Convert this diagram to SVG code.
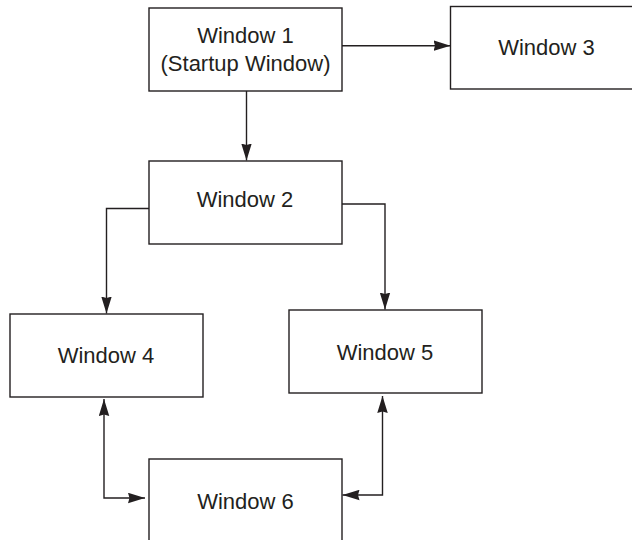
<svg xmlns="http://www.w3.org/2000/svg" width="632" height="540" viewBox="0 0 632 540">
<defs>
<style>
.box{fill:#fff;stroke:#231f20;stroke-width:1.4}
.lbl{font-family:"Liberation Sans",Arial,sans-serif;font-size:22px;fill:#231f20;text-anchor:middle}
.con{fill:none;stroke:#231f20;stroke-width:1.4}
</style>
<marker id="ah" markerUnits="userSpaceOnUse" markerWidth="18" markerHeight="11" refX="17" refY="5.25" orient="auto-start-reverse" viewBox="0 0 18 10.5">
<path d="M0,0 L17,5.25 L0,10.5 L1.5,5.25 z" fill="#231f20"/>
</marker>
</defs>
<rect width="632" height="540" fill="#fff"/>
<g id="connectors">
<path class="con" d="M342,45.7 H450.5" marker-end="url(#ah)"/>
<path class="con" d="M246.5,91 V160.5" marker-end="url(#ah)"/>
<path class="con" d="M149,208.5 H106.5 V313.5" marker-end="url(#ah)"/>
<path class="con" d="M342,204 H385 V309.5" marker-end="url(#ah)"/>
<path class="con" d="M104,399 V498 H145" marker-start="url(#ah)" marker-end="url(#ah)"/>
<path class="con" d="M382.5,396 V495 H342.5" marker-start="url(#ah)" marker-end="url(#ah)"/>
</g>
<g id="window1">
<rect class="box" x="149" y="8" width="193" height="83"/>
<text class="lbl" x="245.5" y="43">Window 1</text>
<text class="lbl" x="245.5" y="70.5">(Startup Window)</text>
</g>
<g id="window3">
<rect class="box" x="450.5" y="6.5" width="193" height="82.5"/>
<text class="lbl" x="546.5" y="55">Window 3</text>
</g>
<g id="window2">
<rect class="box" x="149" y="161" width="193" height="83"/>
<text class="lbl" x="245" y="206.5">Window 2</text>
</g>
<g id="window4">
<rect class="box" x="10" y="314" width="193" height="83"/>
<text class="lbl" x="106" y="363">Window 4</text>
</g>
<g id="window5">
<rect class="box" x="289" y="310" width="193" height="83"/>
<text class="lbl" x="385" y="360">Window 5</text>
</g>
<g id="window6">
<rect class="box" x="149" y="459" width="193" height="90"/>
<text class="lbl" x="245.5" y="508.5">Window 6</text>
</g>
</svg>
